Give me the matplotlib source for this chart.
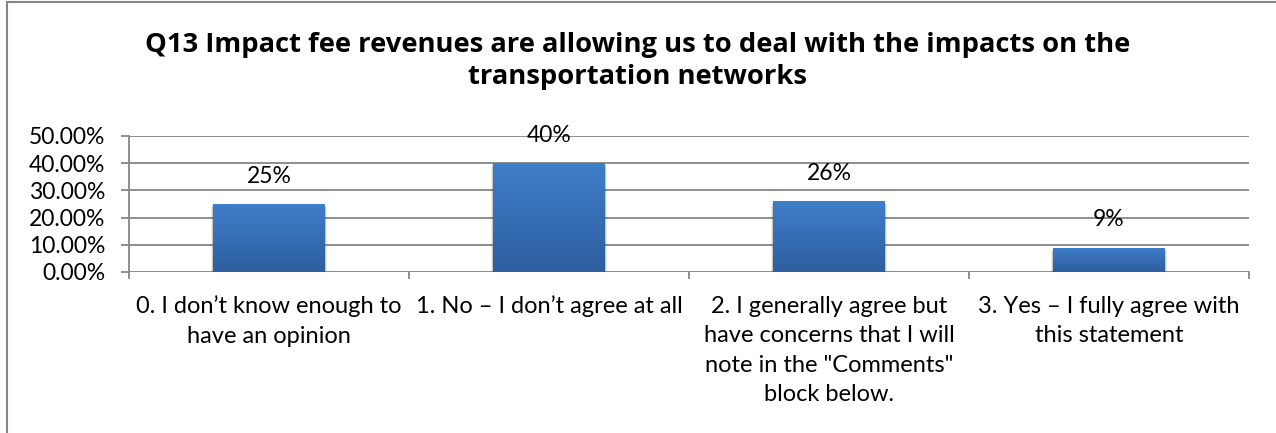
import numpy as np
import matplotlib.pyplot as plt
from matplotlib.lines import Line2D
from matplotlib.patches import Rectangle

plt.rcParams['font.family'] = ['Lato', 'DejaVu Sans']

title = "Q13 Impact fee revenues are allowing us to deal with the impacts on the\ntransportation networks"
categories = [
    "0. I don\u2019t know enough to\nhave an opinion",
    "1. No \u2013 I don\u2019t agree at all",
    "2. I generally agree but\nhave concerns that I will\nnote in the \"Comments\"\nblock below.",
    "3. Yes \u2013 I fully agree with\nthis statement",
]
values = [25, 40, 26, 9]
value_labels = ["25%", "40%", "26%", "9%"]
yticks = [0, 10, 20, 30, 40, 50]
ytick_labels = ["0.00%", "10.00%", "20.00%", "30.00%", "40.00%", "50.00%"]

W, H = 1276, 433
fig = plt.figure(figsize=(W / 100, H / 100), dpi=100)
ax = fig.add_axes([129 / W, (H - 272) / H, (1249 - 129) / W, 136 / H])

grid_col = "#868686"
x = np.arange(len(categories))
bar_w = 0.40

ax.set_xlim(-0.5, len(categories) - 0.5)
ax.set_ylim(0, 50)

# horizontal gridlines
for t in yticks:
    ax.axhline(t, color=grid_col, lw=1.3, zorder=0)

# bar gradient (light top -> darker bottom)
top_c = np.array([0x3F, 0x7E, 0xCB]) / 255
bot_c = np.array([0x2D, 0x5E, 0x9E]) / 255
grad = np.linspace(0, 1, 256)[:, None]
grad_img = top_c[None, None, :] * (1 - grad[..., None]) + bot_c[None, None, :] * grad[..., None]

for xi, v, lab in zip(x, values, value_labels):
    # soft drop shadow
    for k, a in enumerate([0.10, 0.08, 0.06]):
        dx = 0.004 + 0.004 * k
        ax.add_patch(Rectangle((xi - bar_w / 2 - dx / 2, -0.9 - 0.3 * k), bar_w + dx, v + 0.3,
                               facecolor="black", alpha=a, lw=0, zorder=1))
    bar = ax.bar(xi, v, width=bar_w, color="none", zorder=2)[0]
    im = ax.imshow(grad_img, extent=[xi - bar_w / 2, xi + bar_w / 2, 0, v],
                   aspect="auto", zorder=2, interpolation="bilinear")
    im.set_clip_path(bar)
    ax.annotate(lab, xy=(xi, v), xytext=(0, 20), textcoords="offset points",
                ha="center", va="center", fontsize=16.5, color="black", zorder=3)

ax.set_yticks(yticks)
ax.set_yticklabels(ytick_labels, fontsize=16.5)
ax.set_xticks(x)
ax.set_xticklabels(categories, fontsize=17, linespacing=1.5, multialignment="center")
ax.tick_params(axis="x", length=0, pad=17)
ax.tick_params(axis="y", length=6, color=grid_col, width=1.3, pad=11)

# category separator ticks below the baseline
for b in np.arange(-0.5, len(categories), 1.0):
    ax.plot([b, b], [0, -2.3], color=grid_col, lw=1.3, clip_on=False, zorder=1)

for s in ["top", "right", "bottom"]:
    ax.spines[s].set_visible(False)
ax.spines["left"].set_color(grid_col)
ax.spines["left"].set_linewidth(1.3)

fig.text(638 / W, 1 - 61 / H, title, ha="center", va="center", fontsize=19.7,
         fontweight="bold", family=["Open Sans", "DejaVu Sans"], linespacing=1.35)

# chart area frame
fig.add_artist(Line2D([6.5 / W, 6.5 / W], [0, 1 - 1.5 / H], transform=fig.transFigure,
                      color=grid_col, lw=1.5))
fig.add_artist(Line2D([6.5 / W, 1], [1 - 1.5 / H, 1 - 1.5 / H], transform=fig.transFigure,
                      color=grid_col, lw=1.5))

fig.savefig("out.png", dpi=100)
